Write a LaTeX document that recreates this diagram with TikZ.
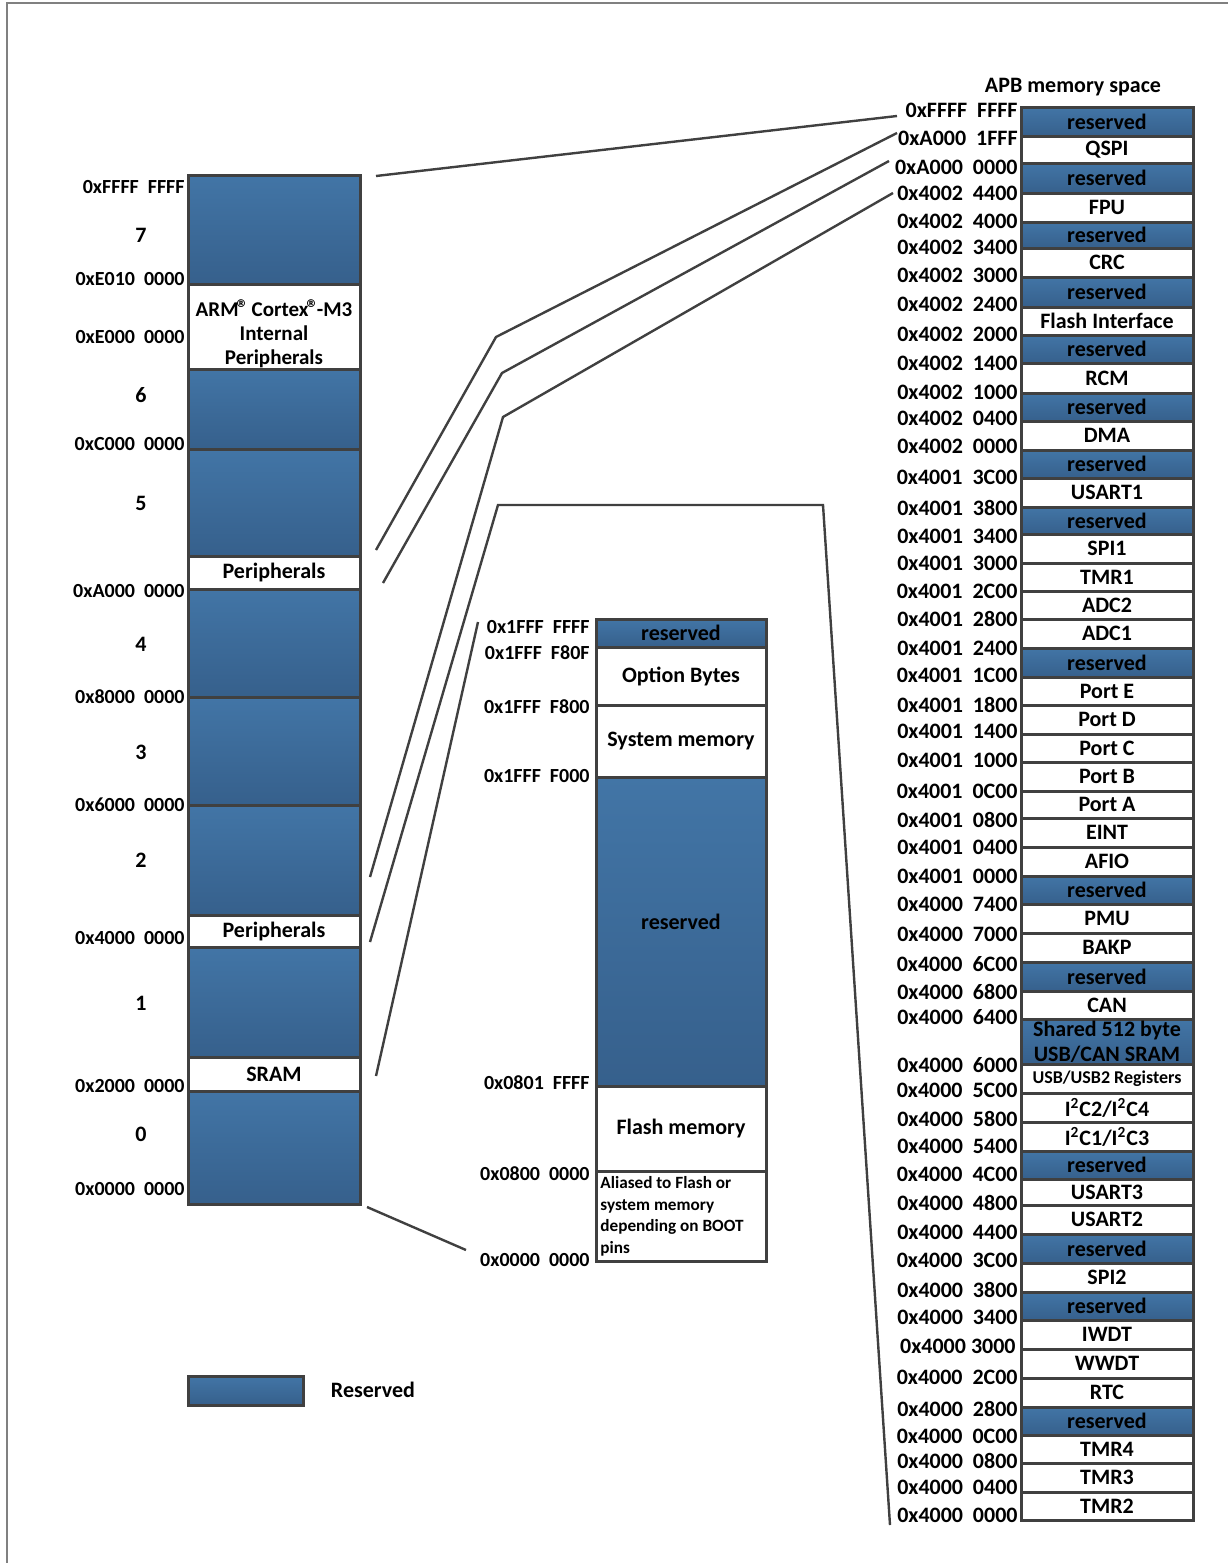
\documentclass[tikz,border=0pt]{standalone}
\usepackage{fontspec}
\setmainfont{Carlito}
\definecolor{blueT}{RGB}{66,117,166}
\definecolor{blueB}{RGB}{54,96,140}
\definecolor{edgec}{RGB}{64,64,64}
\newcommand\ag{\hspace{0.45em}}
\newcommand\regm{{\fontsize{12}{12}\selectfont\kern-0.08em ®\kern-0.08em}}
\newcommand\memrow[7]{%
  \pgfmathsetmacro\mh{(#5-#4)*0.5}%
  \pgfmathsetmacro\mw{#3*0.5}%
  \pgfmathsetmacro\my{(#4+#5)/2}%
  \node[#6,minimum width=\mw pt,minimum height=\mh pt] (#1) at (#2,\my) {#7};}
\begin{document}
\begin{tikzpicture}[x=0.5pt,y=-0.5pt,
  font=\bfseries\fontsize{11}{13}\selectfont,
  res/.style={draw=edgec,line width=1.5pt,top color=blueT,bottom color=blueB,inner sep=0pt,outer sep=0pt},
  wht/.style={draw=edgec,line width=1.5pt,fill=white,inner sep=0pt,outer sep=0pt},
  addr/.style={anchor=east,inner sep=0pt,font=\bfseries\fontsize{11}{13}\selectfont},
  laddr/.style={anchor=east,inner sep=0pt,font=\bfseries\fontsize{10}{12}\selectfont},
  conn/.style={draw=edgec,line width=1.2pt}]
\useasboundingbox (0,0) rectangle (1228,1563);
% frame
\draw[gray,line width=0.8pt] (7,1563) -- (7,3) -- (1228,3);

% ---------- left column ----------
\memrow{L7}{274}{172}{175}{284}{res}{}
\memrow{Larm}{274}{172}{284}{369}{wht}{}
\node[align=center,inner sep=0pt,font=\bfseries\fontsize{10.5}{12}\selectfont] (armtxt) at (274,334) {ARM\regm{} Cortex\regm-M3\\Internal\\Peripherals};
\memrow{L6}{274}{172}{369}{449}{res}{}
\memrow{L5}{274}{172}{449}{556}{res}{}
\memrow{Lper1}{274}{172}{556}{589}{wht}{Peripherals}
\memrow{L4}{274}{172}{589}{697}{res}{}
\memrow{L3}{274}{172}{697}{805}{res}{}
\memrow{L2}{274}{172}{805}{915}{res}{}
\memrow{Lper2}{274}{172}{915}{947}{wht}{Peripherals}
\memrow{L1}{274}{172}{947}{1057}{res}{}
\memrow{Lsram}{274}{172}{1057}{1091}{wht}{SRAM}
\memrow{L0}{274}{172}{1091}{1204}{res}{}

\foreach \yy/\aa/\bb [count=\i] in {187/0xFFFF/FFFF,279/0xE010/0000,337/0xE000/0000,444/0xC000/0000,591/0xA000/0000,697/0x8000/0000,805/0x6000/0000,938/0x4000/0000,1086/0x2000/0000,1189/0x0000/0000}
  \node[laddr] (la\i) at (185,\yy) {\aa\ag\bb};
\foreach \yy/\nn in {235/7,395/6,503/5,644/4,752/3,860/2,1003/1,1134/0}
  \node[inner sep=0pt] (ln\nn) at (141,\yy) {\nn};

% ---------- middle column ----------
\memrow{Mres1}{681}{170}{619}{647}{res}{reserved}
\memrow{Mopt}{681}{170}{647}{705}{wht}{Option Bytes}
\memrow{Msys}{681}{170}{705}{777}{wht}{System memory}
\memrow{Mres2}{681}{170}{777}{1086}{res}{}
\node[inner sep=0pt] (mrestxt) at (681,922) {reserved};
\memrow{Mflash}{681}{170}{1086}{1171}{wht}{Flash memory}
\memrow{Malias}{681}{170}{1171}{1261}{wht}{}
\node[anchor=north west,align=left,inner sep=0pt,font=\bfseries\fontsize{8.6}{10.8}\selectfont] (aliastxt) at (600,1176) {Aliased to Flash or\\system memory\\depending on BOOT\\pins};

\foreach \yy/\aa/\bb [count=\i] in {627/0x1FFF/FFFF,653/0x1FFF/F80F,707/0x1FFF/F800,776/0x1FFF/F000,1083/0x0801/FFFF,1174/0x0800/0000,1260/0x0000/0000}
  \node[laddr] (ma\i) at (590,\yy) {\aa\ag\bb};

% ---------- right column ----------
\node[inner sep=0pt] (apbtitle) at (1073,87) {APB memory space};
\memrow{R1}{1107}{172}{107}{136}{res}{reserved}
\memrow{R2}{1107}{172}{136}{163}{wht}{QSPI}
\memrow{R3}{1107}{172}{163}{193}{res}{reserved}
\memrow{R4}{1107}{172}{193}{222}{wht}{FPU}
\memrow{R5}{1107}{172}{222}{248}{res}{reserved}
\memrow{R6}{1107}{172}{248}{277}{wht}{CRC}
\memrow{R7}{1107}{172}{277}{307}{res}{reserved}
\memrow{R8}{1107}{172}{307}{335}{wht}{Flash Interface}
\memrow{R9}{1107}{172}{335}{363}{res}{reserved}
\memrow{R10}{1107}{172}{363}{393}{wht}{RCM}
\memrow{R11}{1107}{172}{393}{421}{res}{reserved}
\memrow{R12}{1107}{172}{421}{450}{wht}{DMA}
\memrow{R13}{1107}{172}{450}{478}{res}{reserved}
\memrow{R14}{1107}{172}{478}{507}{wht}{USART1}
\memrow{R15}{1107}{172}{507}{534}{res}{reserved}
\memrow{R16}{1107}{172}{534}{563}{wht}{SPI1}
\memrow{R17}{1107}{172}{563}{591}{wht}{TMR1}
\memrow{R18}{1107}{172}{591}{619}{wht}{ADC2}
\memrow{R19}{1107}{172}{619}{648}{wht}{ADC1}
\memrow{R20}{1107}{172}{648}{677}{res}{reserved}
\memrow{R21}{1107}{172}{677}{705}{wht}{Port E}
\memrow{R22}{1107}{172}{705}{734}{wht}{Port D}
\memrow{R23}{1107}{172}{734}{762}{wht}{Port C}
\memrow{R24}{1107}{172}{762}{791}{wht}{Port B}
\memrow{R25}{1107}{172}{791}{818}{wht}{Port A}
\memrow{R26}{1107}{172}{818}{847}{wht}{EINT}
\memrow{R27}{1107}{172}{847}{876}{wht}{AFIO}
\memrow{R28}{1107}{172}{876}{904}{res}{reserved}
\memrow{R29}{1107}{172}{904}{933}{wht}{PMU}
\memrow{R30}{1107}{172}{933}{962}{wht}{BAKP}
\memrow{R31}{1107}{172}{962}{991}{res}{reserved}
\memrow{R32}{1107}{172}{991}{1019}{wht}{CAN}
\memrow{R33}{1107}{172}{1019}{1064}{res,align=center,font=\bfseries\fontsize{11}{12.5}\selectfont}{Shared 512 byte\\USB/CAN SRAM}
\memrow{R34}{1107}{172}{1064}{1093}{wht,font=\bfseries\fontsize{9}{11}\selectfont}{USB/USB2 Registers}
\memrow{R35}{1107}{172}{1093}{1122}{wht}{I\textsuperscript{2}C2/I\textsuperscript{2}C4}
\memrow{R36}{1107}{172}{1122}{1151}{wht}{I\textsuperscript{2}C1/I\textsuperscript{2}C3}
\memrow{R37}{1107}{172}{1151}{1179}{res}{reserved}
\memrow{R38}{1107}{172}{1179}{1205}{wht}{USART3}
\memrow{R39}{1107}{172}{1205}{1234}{wht}{USART2}
\memrow{R40}{1107}{172}{1234}{1263}{res}{reserved}
\memrow{R41}{1107}{172}{1263}{1292}{wht}{SPI2}
\memrow{R42}{1107}{172}{1292}{1320}{res}{reserved}
\memrow{R43}{1107}{172}{1320}{1349}{wht}{IWDT}
\memrow{R44}{1107}{172}{1349}{1378}{wht}{WWDT}
\memrow{R45}{1107}{172}{1378}{1407}{wht}{RTC}
\memrow{R46}{1107}{172}{1407}{1435}{res}{reserved}
\memrow{R47}{1107}{172}{1435}{1463}{wht}{TMR4}
\memrow{R48}{1107}{172}{1463}{1492}{wht}{TMR3}
\memrow{R49}{1107}{172}{1492}{1520}{wht}{TMR2}

\foreach \yy/\aa/\bb [count=\i] in {110/0xFFFF/FFFF,138/0xA000/1FFF,167/0xA000/0000,193/0x4002/4400,221/0x4002/4000,247/0x4002/3400,275/0x4002/3000,304/0x4002/2400,334/0x4002/2000,363/0x4002/1400,392/0x4002/1000,418/0x4002/0400,446/0x4002/0000,477/0x4001/3C00,508/0x4001/3800,536/0x4001/3400,563/0x4001/3000,591/0x4001/2C00,619/0x4001/2800,648/0x4001/2400,675/0x4001/1C00,705/0x4001/1800,731/0x4001/1400,760/0x4001/1000,791/0x4001/0C00,820/0x4001/0800,847/0x4001/0400,876/0x4001/0000,904/0x4000/7400,934/0x4000/7000,964/0x4000/6C00,992/0x4000/6800,1017/0x4000/6400,1065/0x4000/6000,1090/0x4000/5C00,1119/0x4000/5800,1146/0x4000/5400,1174/0x4000/4C00,1203/0x4000/4800,1232/0x4000/4400,1260/0x4000/3C00,1290/0x4000/3800,1317/0x4000/3400,1377/0x4000/2C00,1409/0x4000/2800,1436/0x4000/0C00,1461/0x4000/0800,1487/0x4000/0400,1515/0x4000/0000}
  \node[addr] (ra\i) at (1018,\yy) {\aa\ag\bb};
\node[addr] (ra3000) at (1016,1346) {0x4000 3000};

% ---------- legend ----------
\memrow{legbox}{245.5}{115}{1376}{1405}{res}{}
\node[inner sep=0pt] (legtext) at (373,1390) {Reserved};

% ---------- connectors ----------
\coordinate (c1a) at (376,176);  \coordinate (c1b) at (897,116);
\coordinate (c2a) at (376,550);  \coordinate (c2m) at (496,337); \coordinate (c2b) at (897,133);
\coordinate (c3a) at (383,583);  \coordinate (c3m) at (502,373); \coordinate (c3b) at (889,161);
\coordinate (c4a) at (370,877);  \coordinate (c4m) at (503,417); \coordinate (c4b) at (893,193);
\coordinate (c5a) at (370,942);  \coordinate (c5m) at (498,505); \coordinate (c5n) at (823,505); \coordinate (c5b) at (890,1525);
\coordinate (c6a) at (376,1076); \coordinate (c6b) at (478,622);
\coordinate (c7a) at (367,1207); \coordinate (c7b) at (466,1250);
\draw[conn] (c1a) -- (c1b);
\draw[conn] (c2a) -- (c2m) -- (c2b);
\draw[conn] (c3a) -- (c3m) -- (c3b);
\draw[conn] (c4a) -- (c4m) -- (c4b);
\draw[conn] (c5a) -- (c5m) -- (c5n) -- (c5b);
\draw[conn] (c6a) -- (c6b);
\draw[conn] (c7a) -- (c7b);
\end{tikzpicture}
\end{document}
